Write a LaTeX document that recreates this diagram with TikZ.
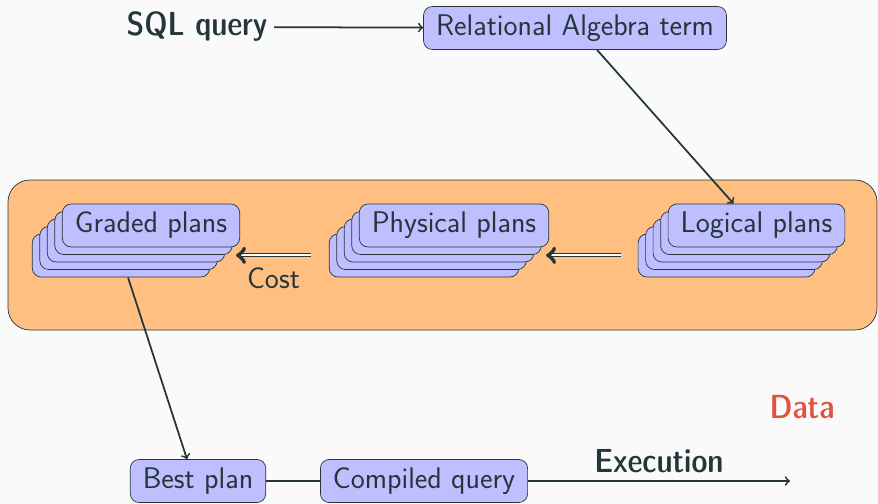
\documentclass[tikz,border=0pt]{standalone}
\usepackage{tikz}
\usetikzlibrary{shadows}

\definecolor{bgcol}{HTML}{FAFAFA}
\definecolor{inkcol}{HTML}{23373B}
\definecolor{datacol}{HTML}{E0533F}
\newcommand{\slidefont}{\sffamily\fontsize{17}{20}\selectfont}

\tikzset{
	plan/.style={draw=inkcol, fill=blue!25, thin, rounded corners=5pt,
		inner xsep=0.25cm, inner ysep=1pt, minimum height=0.86cm},
	plans/.style={plan,
		copy shadow={shadow xshift=-0.6cm, shadow yshift=-0.6cm, fill=blue!25, draw=inkcol},
		copy shadow={shadow xshift=-0.45cm, shadow yshift=-0.45cm, fill=blue!25, draw=inkcol},
		copy shadow={shadow xshift=-0.3cm, shadow yshift=-0.3cm, fill=blue!25, draw=inkcol},
		copy shadow={shadow xshift=-0.15cm, shadow yshift=-0.15cm, fill=blue!25, draw=inkcol}},
	strong/.style={font=\sffamily\fontseries{sbc}\fontsize{19}{22}\selectfont},
	dbl/.style={->, double, double distance=1.2pt, line width=0.6pt},
}

\begin{document}
\begin{tikzpicture}[font=\slidefont, color=inkcol, line width=1pt]
	\useasboundingbox [fill=bgcol] (0, 0) rectangle (17.56, -10.08);
	\node [draw=inkcol, fill=orange!50, thin, rounded corners=0.44cm,
		minimum width=17.38cm, minimum height=3cm] (DZ) at (8.85, -5.1) {};
	\node [strong] (SQL) at (3.94, -0.54) {SQL query};
	\node [plan] (RA) at (11.5, -0.56) {Relational Algebra term};
	\node [plans] (LP) at (15.13, -4.51) {Logical plans};
	\node [plans] (PP) at (9.08, -4.51) {Physical plans};
	\node [plans] (GP) at (3.02, -4.51) {Graded plans};
	\node [plan] (BP) at (3.96, -9.62) {Best plan};
	\node [plan] (CQ) at (8.48, -9.62) {Compiled query};
	\node [strong, text=datacol] (DT) at (16.04, -8.14) {Data};
	\coordinate (EX) at (15.8, -9.62);
	\draw [->] (SQL) -- (RA);
	\draw [->] ([xshift=0.44cm]RA.south) -- ([xshift=-0.46cm]LP.north);
	\draw [dbl] ([shift={(-0.94,-0.16)}]LP.south west) -- ([shift={(-0.06,-0.16)}]PP.south east);
	\draw [dbl] ([shift={(-0.96,-0.16)}]PP.south west) -- node [below=0.12cm] {Cost} ([shift={(-0.08,-0.16)}]GP.south east);
	\draw [->] ([shift={(-0.46,-0.6)}]GP.south) -- ([xshift=-0.22cm]BP.north);
	\draw (BP) -- (CQ);
	\draw [->] (CQ) -- node [above=1pt, strong] {Execution} (EX);
\end{tikzpicture}
\end{document}
